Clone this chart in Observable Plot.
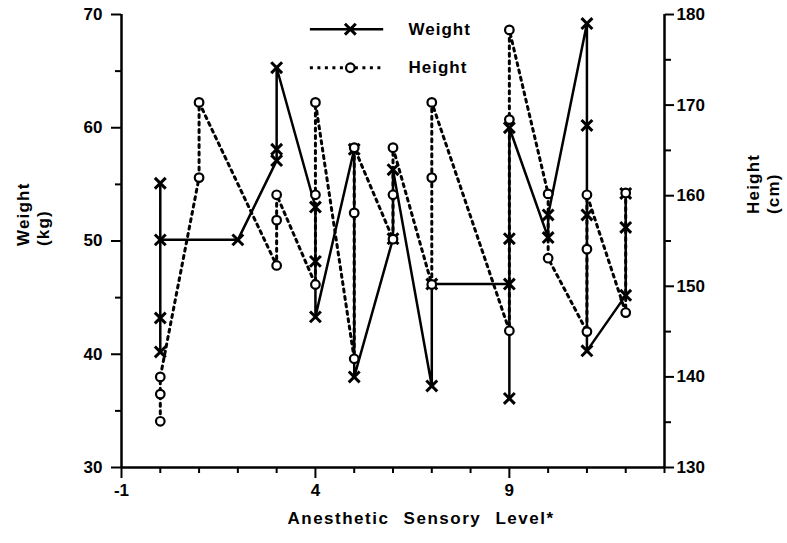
<!DOCTYPE html>
<html><head><meta charset="utf-8">
<script src="https://cdn.jsdelivr.net/npm/d3@7"></script>
<script src="https://cdn.jsdelivr.net/npm/@observablehq/plot@0.6"></script>
<style>
body{margin:0;background:#fff;}
#chart{width:787px;height:543px;}
</style></head><body><div id="chart"></div>
<script>
// ---- Data (path order along each series) ----
const weightLevel = [0,0,0,0, 2, 3,3,3, 4,4,4, 5,5, 6,6, 7,7, 9,9,9,9, 10,10, 11,11,11,11, 12,12,12];
const weightKg    = [55.1,43.2,40.2,50.1, 50.1, 57.1,58.1,65.3, 53.0,48.2,43.3, 58.1,38.0, 50.2,56.3, 37.2,46.2, 46.2,36.1,50.2,60.0, 50.3,52.3, 69.2,60.2,52.3,40.3, 45.2,51.2,54.2];
const heightLevel = [0,0,0, 1,1, 3,3,3, 4,4,4, 5,5,5, 6,6,6, 7,7,7, 9,9,9, 10,10, 11,11,11, 12,12];
const heightCm    = [135.1,138.1,140.0, 162.0,170.3, 152.3,157.3,160.1, 150.2,160.1,170.3, 142.0,158.1,165.3, 155.2,160.1,165.3, 150.2,162.0,170.3, 145.1,168.4,178.3, 160.2,153.1, 145.0,154.1,160.1, 147.1,160.3];

const xTickLabels = [-1, 4, 9];
const xMinorTicks = [0,1,2,3,5,6,7,8,10,11,12,13];
const weightTicks = [30,40,50,60,70];
const weightMinor = [35,45,55,65];
const heightTicks = [130,140,150,160,170,180];
const heightMinor = [135,145,155,165,175];
const seriesNames = ["Weight", "Height"];
const xTitle = "Anesthetic Sensory Level*";
const yTitleLeft = "Weight\n(kg)";
const yTitleRight = "Height\n(cm)";

// ---- Layout (not data) ----
const legendLayout = {x1: 3.87, x2: 5.76, marker: 4.9, text: 6.4, rows: [68.7, 65.3]};

// height shares the frame: map cm onto the kg scale
const h2w = h => 30 + (h - 130) * 40 / 50;
const w2h = w => 130 + (w - 30) * 50 / 40;

const weight = weightLevel.map((x, i) => ({x, y: weightKg[i]}));
const height = heightLevel.map((x, i) => ({x, y: h2w(heightCm[i])}));
const legend = seriesNames.map((name, i) => ({name, y: legendLayout.rows[i]}));

const DASH = "3,4.5";
const plot = Plot.plot({
  width: 787, height: 543,
  marginLeft: 121, marginRight: 123, marginTop: 14, marginBottom: 76,
  style: {fontFamily: "'Liberation Sans', Arial, sans-serif", fontSize: "17px", fontWeight: "bold", background: "white", color: "black", overflow: "visible"},
  x: {domain: [-1, 13]},
  y: {domain: [30, 70]},
  marks: [
    Plot.axisX(xMinorTicks, {tickSize: 6, strokeWidth: 2, tickFormat: () => "", label: null}),
    Plot.axisX(xTickLabels, {tickSize: 11, tickPadding: 5, strokeWidth: 2, tickFormat: d => String(d), label: null}),
    Plot.axisY(weightMinor, {anchor: "left", tickSize: 6, strokeWidth: 2, tickFormat: () => "", label: null}),
    Plot.axisY(weightTicks, {anchor: "left", tickSize: 10, tickPadding: 9, strokeWidth: 2, tickFormat: d => String(d), label: null}),
    Plot.axisY(heightMinor.map(h2w), {anchor: "right", tickSize: 6, strokeWidth: 2, tickFormat: () => "", label: null}),
    Plot.axisY(heightTicks.map(h2w), {anchor: "right", tickSize: 9, tickPadding: 3, strokeWidth: 2, tickFormat: d => String(Math.round(w2h(d))), label: null}),
    Plot.ruleY([30], {strokeWidth: 2.5}),
    Plot.ruleX([-1, 13], {strokeWidth: 2.5}),
    Plot.line(height, {x: "x", y: "y", strokeWidth: 3, strokeDasharray: DASH}),
    Plot.line(weight, {x: "x", y: "y", strokeWidth: 2.5}),
    Plot.dot(weight, {x: "x", y: "y", symbol: "times", r: 5, stroke: "black", strokeWidth: 3}),
    Plot.dot(height, {x: "x", y: "y", r: 4.3, fill: "white", stroke: "black", strokeWidth: 2.2}),
    // legend
    Plot.ruleY(legend.filter(d => d.name === "Weight"), {y: "y", x1: legendLayout.x1, x2: legendLayout.x2, strokeWidth: 2.5}),
    Plot.ruleY(legend.filter(d => d.name === "Height"), {y: "y", x1: legendLayout.x1, x2: legendLayout.x2, strokeWidth: 3, strokeDasharray: DASH}),
    Plot.dot(legend.filter(d => d.name === "Weight"), {x: () => legendLayout.marker, y: "y", symbol: "times", r: 5, stroke: "black", strokeWidth: 3}),
    Plot.dot(legend.filter(d => d.name === "Height"), {x: () => legendLayout.marker, y: "y", r: 4.3, fill: "white", stroke: "black", strokeWidth: 2.2}),
    Plot.text(legend, {x: () => legendLayout.text, y: "y", text: "name", textAnchor: "start", fontSize: 17}),
    // axis titles
    Plot.text([xTitle], {frameAnchor: "bottom", dx: 28, dy: 56, fontSize: 17}),
    Plot.text([yTitleLeft], {frameAnchor: "left", rotate: -90, dx: -89, dy: 5, textAnchor: "start", lineAnchor: "middle", fontSize: 17, lineHeight: 1.2}),
    Plot.text([yTitleRight], {frameAnchor: "right", rotate: -90, dx: 98, dy: -27, textAnchor: "start", lineAnchor: "middle", fontSize: 17, lineHeight: 1.2})
  ]
});
document.getElementById("chart").appendChild(plot);
plot.querySelectorAll("text").forEach(t => {
  const s = t.textContent;
  if (s === xTitle) { t.style.letterSpacing = "1.5px"; t.style.wordSpacing = "8px"; }
  else if (seriesNames.includes(s)) { t.style.letterSpacing = "1px"; }
  else if (s.startsWith("Weight(") || s.startsWith("Height(")) { t.style.letterSpacing = "1.2px"; }
});
</script>
</body></html>
